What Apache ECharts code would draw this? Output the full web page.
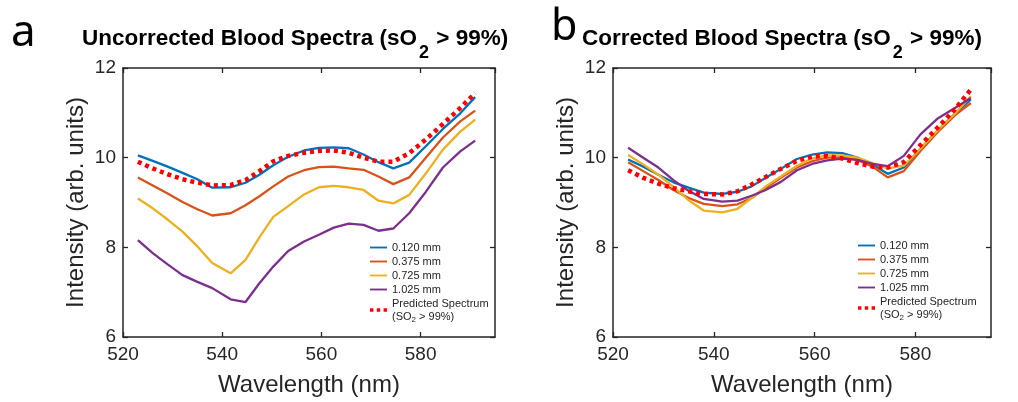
<!DOCTYPE html>
<html>
<head>
<meta charset="utf-8">
<script src="https://cdn.jsdelivr.net/npm/echarts@6/dist/echarts.min.js"></script>
<style>html,body{margin:0;padding:0;background:#fff}#c{width:1018px;height:402px}</style>
</head>
<body>
<div id="c"></div>
<script>
// ---- data ----
var wavelengths = [523, 526, 529, 532, 535, 538, 541.7, 544.7, 547.5, 550.3, 553.3, 556.5, 559.5, 562.5, 565.5, 568.5, 571.5, 574.5, 577.7, 581, 584.5, 588, 591];
var seriesNames = ['0.120 mm', '0.375 mm', '0.725 mm', '1.025 mm', 'Predicted Spectrum'];
// panel a: uncorrected
var a_120  = [10.05, 9.93, 9.80, 9.66, 9.52, 9.33, 9.34, 9.44, 9.62, 9.83, 10.02, 10.16, 10.22, 10.23, 10.21, 10.07, 9.90, 9.76, 9.89, 10.25, 10.64, 10.99, 11.35];
var a_375  = [9.56, 9.38, 9.20, 9.01, 8.85, 8.71, 8.76, 8.94, 9.14, 9.36, 9.58, 9.72, 9.79, 9.80, 9.76, 9.73, 9.58, 9.41, 9.56, 9.99, 10.45, 10.81, 11.05];
var a_725  = [9.09, 8.87, 8.62, 8.35, 8.02, 7.65, 7.42, 7.72, 8.22, 8.68, 8.92, 9.18, 9.34, 9.37, 9.34, 9.28, 9.04, 8.98, 9.17, 9.64, 10.18, 10.58, 10.85];
var a_1025 = [8.16, 7.87, 7.62, 7.38, 7.23, 7.09, 6.84, 6.78, 7.20, 7.57, 7.92, 8.13, 8.28, 8.44, 8.53, 8.50, 8.37, 8.42, 8.76, 9.23, 9.78, 10.14, 10.38];
var a_pred = [9.91, 9.76, 9.63, 9.52, 9.44, 9.38, 9.39, 9.50, 9.70, 9.92, 10.04, 10.11, 10.15, 10.16, 10.11, 10.00, 9.91, 9.91, 10.10, 10.40, 10.75, 11.11, 11.44];
// panel b: corrected
var b_120  = [9.96, 9.80, 9.62, 9.45, 9.33, 9.22, 9.19, 9.24, 9.36, 9.55, 9.75, 9.97, 10.07, 10.12, 10.10, 10.00, 9.85, 9.64, 9.78, 10.20, 10.62, 11.00, 11.30];
var b_375  = [9.90, 9.70, 9.50, 9.28, 9.10, 8.97, 8.92, 8.96, 9.10, 9.32, 9.55, 9.78, 9.92, 10.00, 10.01, 9.95, 9.80, 9.56, 9.70, 10.15, 10.58, 10.96, 11.22];
var b_725  = [10.06, 9.85, 9.62, 9.35, 9.05, 8.82, 8.78, 8.86, 9.10, 9.36, 9.58, 9.82, 9.98, 10.05, 10.05, 10.00, 9.88, 9.76, 9.82, 10.20, 10.62, 11.00, 11.37];
var b_1025 = [10.22, 10.00, 9.78, 9.50, 9.26, 9.08, 9.02, 9.04, 9.15, 9.28, 9.46, 9.72, 9.86, 9.94, 9.98, 9.95, 9.86, 9.81, 10.04, 10.52, 10.88, 11.12, 11.33];
var b_pred = [9.72, 9.55, 9.42, 9.32, 9.25, 9.19, 9.18, 9.25, 9.40, 9.57, 9.75, 9.93, 10.02, 10.04, 9.98, 9.88, 9.80, 9.78, 9.90, 10.28, 10.68, 11.10, 11.52];
var xTicks = [520, 540, 560, 580];
var yTicks = [6, 8, 10, 12];

var colors = ['#0072BD', '#D95319', '#EDB120', '#7E2F8E', '#FF0000'];
var FONT = 'Liberation Sans';
var AX = '#262626';
var ICON_LINE = 'path://M0,0H20V2.2H0Z';
var ICON_DOTS = 'path://M0,0h3.5v3.5h-3.5z M7,0h3.5v3.5h-3.5z M14,0h3.5v3.5h-3.5z';

function pairs(v){ return wavelengths.map(function(w,i){ return [w, v[i]]; }); }

function xAx(gi, pos){
  return {
    type:'value', gridIndex:gi, position:pos, min:xTicks[0], max:595, interval:xTicks[1]-xTicks[0],
    name: pos==='bottom' ? 'Wavelength (nm)' : '', nameLocation:'middle', nameGap:36,
    nameTextStyle:{fontFamily:FONT, fontSize:24, color:AX},
    axisLine:{show:true, onZero:false, lineStyle:{color:AX, width:1.5}},
    axisTick:{show:true, inside:true, length:5, lineStyle:{color:AX, width:1.3}},
    axisLabel:{show: pos==='bottom', fontFamily:FONT, fontSize:19, color:AX, margin:8, showMaxLabel:false},
    splitLine:{show:false}
  };
}
function yAx(gi, pos){
  return {
    type:'value', gridIndex:gi, position:pos, min:yTicks[0], max:yTicks[yTicks.length-1], interval:yTicks[1]-yTicks[0],
    name: pos==='left' ? 'Intensity (arb. units)' : '', nameLocation:'middle', nameGap:35,
    nameTextStyle:{fontFamily:FONT, fontSize:24, color:AX},
    axisLine:{show:true, onZero:false, lineStyle:{color:AX, width:1.5}},
    axisTick:{show:true, inside:true, length:5, lineStyle:{color:AX, width:1.3}},
    axisLabel:{show: pos==='left', fontFamily:FONT, fontSize:19, color:AX, margin:7},
    splitLine:{show:false}
  };
}
function mkSeries(gi, arrs){
  return arrs.map(function(v, i){
    var pred = i===4;
    return {
      name: seriesNames[i], type:'line', xAxisIndex:gi*2, yAxisIndex:gi*2,
      data: pairs(v), showSymbol:false, symbol:'none', smooth:false, animation:false,
      z: pred ? 5 : 3,
      lineStyle:{color:colors[i], width: pred ? 4.5 : 2.3, type: pred ? [4,4] : 'solid', cap:'butt'},
      itemStyle:{color:colors[i]}
    };
  });
}
function mkLegend(left, top){
  return {
    orient:'vertical', left:left, top:top, itemWidth:17, itemHeight:10, itemGap:1,
    selectedMode:false, padding:0, symbolKeepAspect:true,
    data: seriesNames.map(function(n, i){
      return {name:n, icon: i===4 ? ICON_DOTS : ICON_LINE, itemStyle:{color:colors[i], borderWidth:0}};
    }),
    formatter: function(n){ return n==='Predicted Spectrum' ? 'Predicted Spectrum\n(SO{s|2} > 99%)' : n; },
    textStyle:{fontFamily:FONT, fontSize:11, color:AX, lineHeight:13,
      rich:{s:{fontFamily:FONT, fontSize:8, color:AX, lineHeight:10, padding:[6,0,0,0]}}}
  };
}
var titleRich = {
  t:{fontFamily:FONT, fontSize:22.5, fontWeight:'bold', color:'#000', lineHeight:26, verticalAlign:'top'},
  s:{fontFamily:FONT, fontSize:18, fontWeight:'bold', color:'#000', lineHeight:19, padding:[17,1,0,2], verticalAlign:'top'}
};

var option = {
  backgroundColor:'#fff',
  animation:false,
  title:[
    {text:'{t|Uncorrected Blood Spectra (sO}{s|2}{t| > 99%)}', left:82, top:27, padding:0, textStyle:{rich:titleRich}},
    {text:'{t|Corrected Blood Spectra (sO}{s|2}{t| > 99%)}', left:582, top:27, padding:0, textStyle:{rich:titleRich}}
  ],
  graphic:[
    {type:'text', left:11, top:11, style:{text:'a', fontFamily:'Noto Sans', fontSize:44, fill:'#000'}},
    {type:'text', left:551, top:6, style:{text:'b', fontFamily:'Noto Sans', fontSize:43, fill:'#000'}}
  ],
  grid:[
    {left:123, top:68, right:523, bottom:64},
    {left:613, top:68, right:27, bottom:64}
  ],
  xAxis:[xAx(0,'bottom'), xAx(0,'top'), xAx(1,'bottom'), xAx(1,'top')],
  yAxis:[yAx(0,'left'), yAx(0,'right'), yAx(1,'left'), yAx(1,'right')],
  legend:[mkLegend(370, 241), mkLegend(858, 239)],
  series: mkSeries(0, [a_120, a_375, a_725, a_1025, a_pred]).concat(mkSeries(1, [b_120, b_375, b_725, b_1025, b_pred]))
};
var chart = echarts.init(document.getElementById('c'), null, {renderer:'canvas'});
chart.setOption(option);
</script>
</body>
</html>
